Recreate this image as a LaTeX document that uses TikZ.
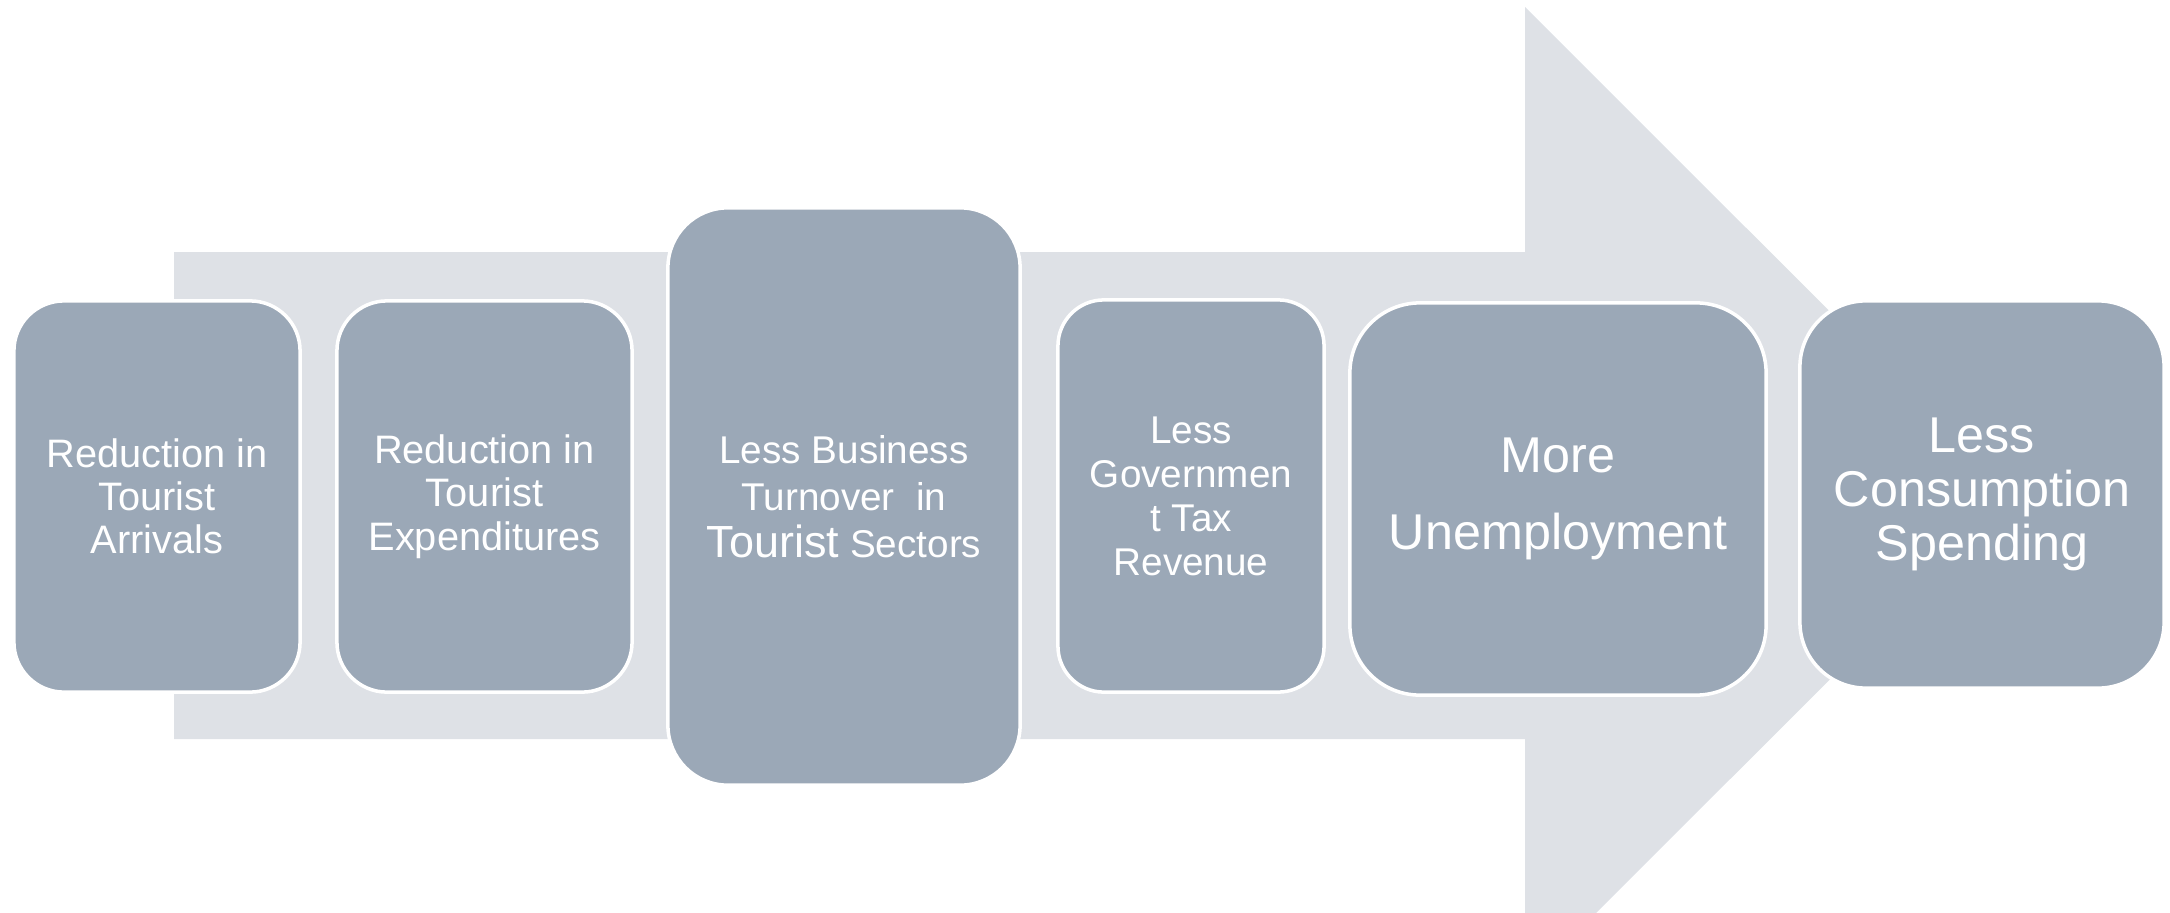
\documentclass[tikz,border=0pt]{standalone}
\usepackage{fontspec}
\setmainfont{Liberation Sans}
\usepackage{tikz}
\usepackage{xcolor}
\usetikzlibrary{positioning}
\definecolor{stagefill}{HTML}{9BA8B7}
\definecolor{arrowfill}{HTML}{DEE1E6}
\tikzset{stage/.style={draw=white, line width=1pt, fill=stagefill, text=white, align=center, inner sep=0pt}}
\newcommand{\smallstage}{\fontsize{11.3}{12.3}\selectfont}
\newcommand{\bigstage}{\fontsize{14.3}{22}\selectfont}

\begin{document}
\begin{tikzpicture}[x=0.01cm, y=-0.01cm]
    \useasboundingbox (0, 0) rectangle (2170, 912);
    % big arrow in the back
    \begin{scope}
        \clip (0, 0) rectangle (2170, 912);
        \fill[arrowfill] (174, 252) -- (1525, 252) -- (1525, 7) -- (2014, 495.5)
            -- (1525, 984) -- (1525, 739) -- (174, 739) -- cycle;
    \end{scope}
    \node[stage, rounded corners=0.5cm, minimum width=2.86cm, minimum height=3.91cm, font=\smallstage]
        (arrivals) at (157, 496.5) {Reduction in\\Tourist\\Arrivals};
    \node[stage, rounded corners=0.5cm, minimum width=2.95cm, minimum height=3.91cm, font=\smallstage]
        (expend) at (484.5, 496.5) {Reduction in\\Tourist\\Expenditures};
    \node[stage, rounded corners=0.6cm, minimum width=3.52cm, minimum height=5.77cm, font=\fontsize{11}{13.4}\selectfont]
        (turnover) at (844, 496.5) {Less Business\\Turnover\ \ in\\{\fontsize{12.8}{13.4}\selectfont Tourist} Sectors};
    \node[stage, rounded corners=0.46cm, minimum width=2.66cm, minimum height=3.92cm, font=\fontsize{11}{12.5}\selectfont]
        (tax) at (1191, 496) {Less\\Governmen\\t Tax\\Revenue};
    \node[stage, rounded corners=0.7cm, minimum width=4.16cm, minimum height=3.92cm, font=\bigstage]
        (unemp) at (1558, 499) {More\\Unemployment};
    \node[stage, rounded corners=0.66cm, minimum width=3.64cm, minimum height=3.87cm, font=\fontsize{14.3}{15.4}\selectfont]
        (spending) at (1982, 494.5) {Less\\Consumption\\Spending};
\end{tikzpicture}
\end{document}
